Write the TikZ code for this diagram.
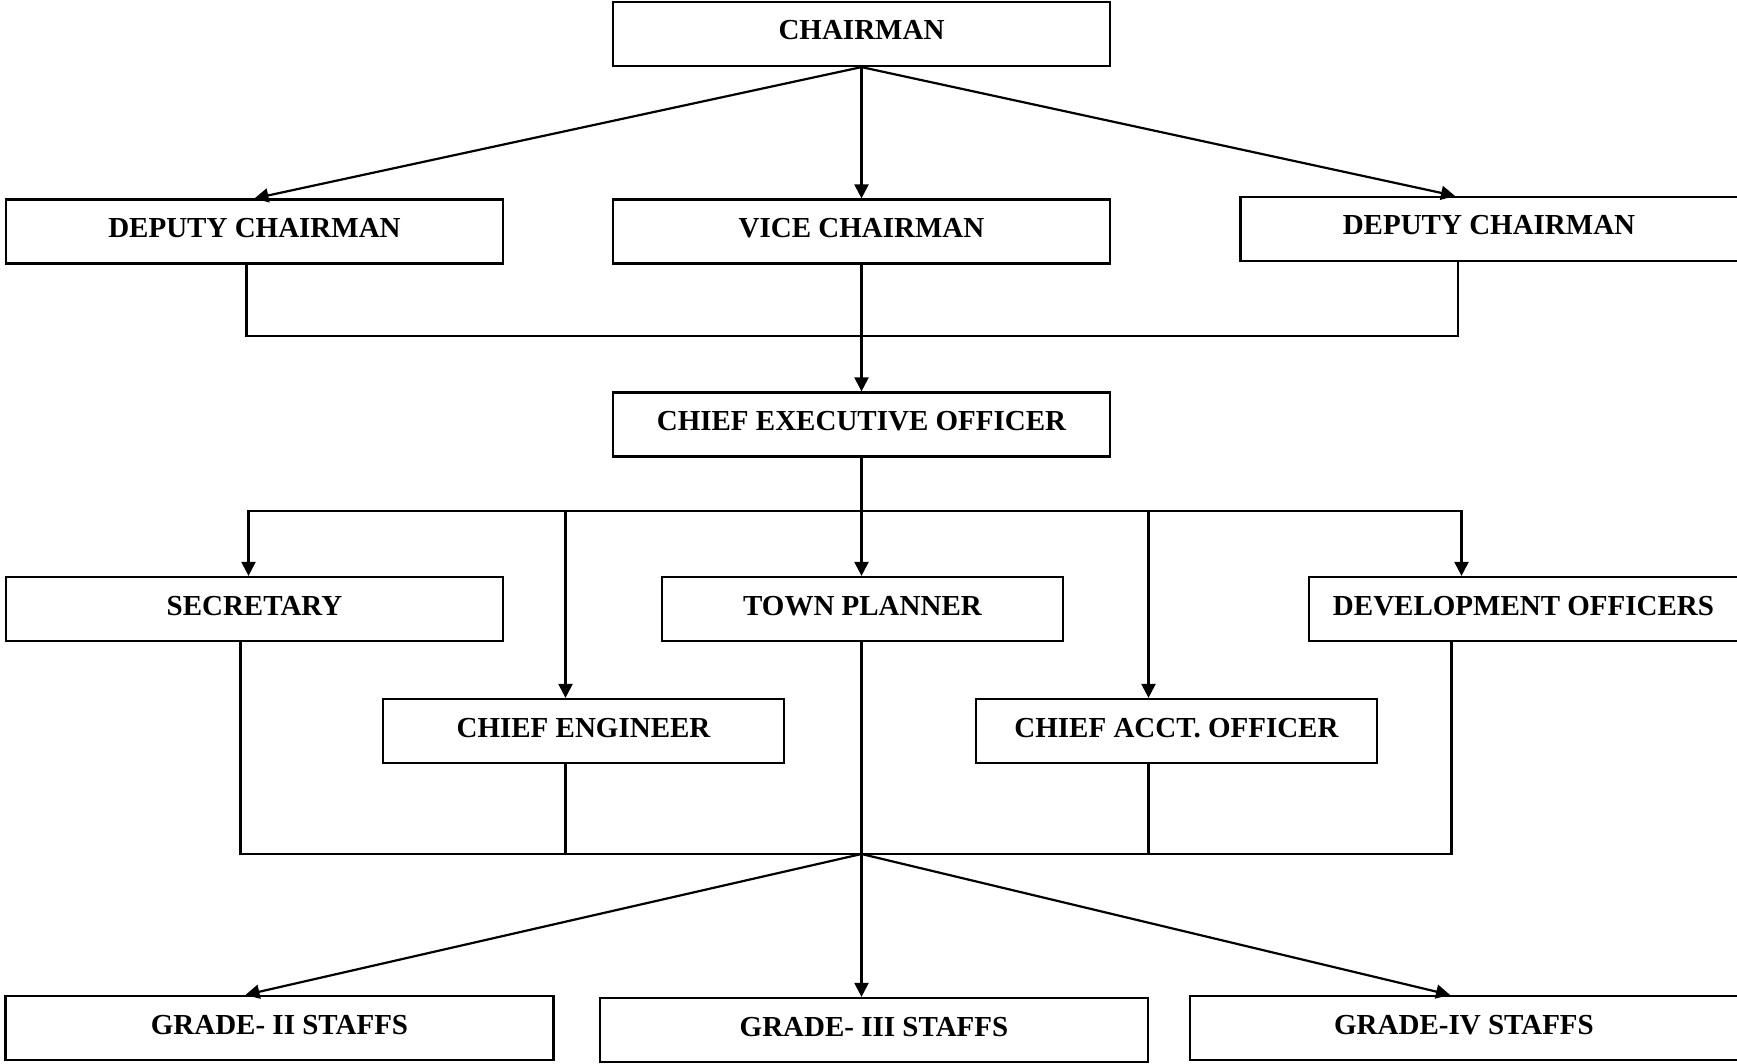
\documentclass[tikz,border=0pt]{standalone}
\usepackage{fontspec}
\setmainfont{Liberation Serif}
\usetikzlibrary{arrows.meta,positioning}

\begin{document}
\begin{tikzpicture}[x=0.5pt,y=-0.5pt,line width=1.1pt,
  post/.style={-{Triangle[length=7pt,width=7pt]}},
  post box/.style={draw,rectangle,inner sep=0pt,minimum height=32pt,
    text height=10pt,text depth=4pt,font=\fontsize{14.5}{17}\selectfont\bfseries},
  wide/.style={post box,minimum width=248.5pt},
  narrow/.style={post box,minimum width=200.5pt},
  grade/.style={post box,minimum width=274pt},
  % boxes that run off the right edge
  cut/.style={xshift=3pt,minimum width=#1}]
 \useasboundingbox (0,0) rectangle (1737,1064);

 % top levels
 \node[wide] (chair) at (861.5,34)    {CHAIRMAN};
 \node[wide] (depL)  at (254.5,231.5) {DEPUTY CHAIRMAN};
 \node[wide] (vice)  at (861.5,231.5) {VICE CHAIRMAN};
 \node[wide,cut=254.5pt] (depR) at (1489,229) {DEPUTY CHAIRMAN\hspace*{6pt}};
 \node[wide] (ceo)   at (861.5,424.5) {CHIEF EXECUTIVE OFFICER};

 % officers
 \node[wide]   (sec)  at (254.5,609)  {SECRETARY};
 \node[narrow] (town) at (862.5,609)  {TOWN PLANNER};
 \node[post box,cut=220.5pt] (dev) at (1523.5,609) {DEVELOPMENT OFFICERS\hspace*{6pt}};
 \node[narrow] (eng)  at (583.5,731)  {CHIEF ENGINEER};
 \node[narrow] (acct) at (1176.5,731) {CHIEF ACCT. OFFICER};

 % staffs
 \node[grade] (g2) at (279.5,1028) {GRADE- II STAFFS};
 \node[grade] (g3) at (874,1030)   {GRADE- III STAFFS};
 \node[grade,cut=280pt] (g4) at (1464,1028) {GRADE-IV STAFFS\hspace*{6pt}};

 \coordinate (j1) at (vice.south |- 0,336);
 \coordinate (j2) at (ceo.south |- 0,511);
 \coordinate (j3) at (ceo.south |- 0,854);
 \coordinate (engIn)  at ([xshift=-9pt]eng.north);
 \coordinate (acctIn) at ([xshift=-14pt]acct.north);

 \draw[post] (chair.south) -- (depL.north);
 \draw[post] (chair.south) -- (vice.north);
 \draw[post] (chair.south) -- ([xshift=-20pt]depR.north);

 \draw ([xshift=-4pt]depL.south) |- (j1) -| ([xshift=-18.5pt]depR.south);
 \draw[post] (vice.south) -- (ceo.north);

 \draw (ceo.south) -- (j2);
 \draw[post] (j2) -| ([xshift=-3pt]sec.north);
 \draw[post] (j2) -| ([xshift=-34pt]dev.north);
 \draw[post] (j2) -- (j2 |- town.north);
 \draw[post] (engIn |- j2) -- (engIn);
 \draw[post] (acctIn |- j2) -- (acctIn);

 \draw ([xshift=-7pt]sec.south) |- (j3) -| ([xshift=-39pt]dev.south);
 \draw (engIn |- eng.south) -- (engIn |- j3);
 \draw (acctIn |- acct.south) -- (acctIn |- j3);
 \draw (j3 |- town.south) -- (j3);

 \draw[post] (j3) -- ([xshift=-17pt]g2.north);
 \draw[post] (j3) -- (j3 |- g3.north);
 \draw[post] (j3) -- ([xshift=-10pt]g4.north);
\end{tikzpicture}
\end{document}
